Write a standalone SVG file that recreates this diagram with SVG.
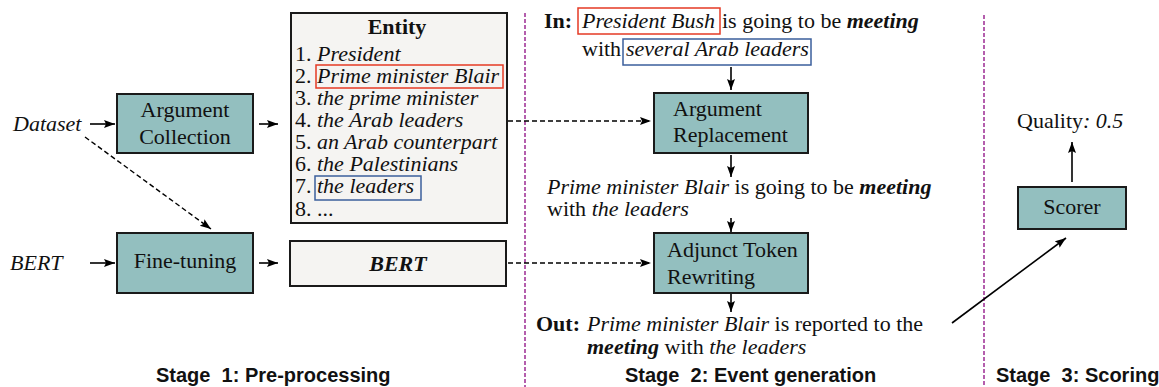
<svg xmlns="http://www.w3.org/2000/svg" width="1159" height="387" viewBox="0 0 1159 387">
<style>
.t{font-family:"Liberation Serif","Times New Roman",serif;font-size:22px;fill:#111}
.i{font-style:italic}
.b{font-weight:bold}
.st{font-family:"Liberation Sans",Arial,sans-serif;font-size:20px;font-weight:bold;fill:#111;white-space:pre}
.proc{fill:#93bfbf;stroke:#1a1a1a;stroke-width:2}
.store{fill:#f5f4f2;stroke:#1a1a1a;stroke-width:2}
.arr{stroke:#000;stroke-width:1.6;fill:none;marker-end:url(#ah)}
.dash{stroke:#000;stroke-width:1.4;fill:none;stroke-dasharray:5 3;marker-end:url(#ah)}
.sep{stroke:#9c2a92;stroke-width:1.5;stroke-dasharray:4 2;fill:none}
.red{fill:none;stroke:#e53a25;stroke-width:1.5}
.blue{fill:none;stroke:#3b5f9c;stroke-width:1.5}
</style>
<defs>
<marker id="ah" markerUnits="userSpaceOnUse" markerWidth="12" markerHeight="10" refX="11" refY="4" orient="auto">
<path d="M0,0 L11,4 L0,8 L2,4 z" fill="#000"/>
</marker>
</defs>

<g id="separators">
<line class="sep" x1="525" y1="13" x2="525" y2="387"/>
<line class="sep" x1="984" y1="15" x2="984" y2="387"/>
</g>

<g id="dataset-label"><text class="t i" x="13" y="131">Dataset</text></g>
<g id="bert-input-label"><text class="t i" x="10" y="270">BERT</text></g>

<g id="argument-collection">
<rect class="proc" x="117" y="94" width="136" height="59"/>
<text class="t" x="185" y="117" text-anchor="middle">Argument</text>
<text class="t" x="185" y="144" text-anchor="middle">Collection</text>
</g>

<g id="fine-tuning">
<rect class="proc" x="117" y="233" width="136" height="60"/>
<text class="t" x="185" y="268" text-anchor="middle">Fine-tuning</text>
</g>

<g id="entity">
<rect class="store" x="291" y="13" width="216" height="210"/>
<text class="t b" x="397" y="34" text-anchor="middle">Entity</text>
<text class="t" x="295" y="61">1. <tspan class="i" x="317">President</tspan></text>
<text class="t" x="295" y="83">2. <tspan class="i" x="317">Prime minister Blair</tspan></text>
<text class="t" x="295" y="105">3. <tspan class="i" x="317">the prime minister</tspan></text>
<text class="t" x="295" y="127">4. <tspan class="i" x="317">the Arab leaders</tspan></text>
<text class="t" x="295" y="149">5. <tspan class="i" x="317">an Arab counterpart</tspan></text>
<text class="t" x="295" y="171">6. <tspan class="i" x="317">the Palestinians</tspan></text>
<text class="t" x="295" y="193">7. <tspan class="i" x="317">the leaders</tspan></text>
<text class="t" x="295" y="216">8. ...</text>
<rect class="red" x="316" y="65" width="187" height="23"/>
<rect class="blue" x="315" y="176" width="106" height="24"/>
</g>

<g id="bert-model">
<rect class="store" x="290" y="241" width="216" height="45"/>
<text class="t i b" x="398" y="271" text-anchor="middle">BERT</text>
</g>

<g id="input-sentence">
<text class="t" x="544" y="28"><tspan class="b">In:</tspan> <tspan class="i" x="582">President Bush</tspan> <tspan x="722">is going to be </tspan><tspan class="i b">meeting</tspan></text>
<rect class="red" x="578" y="8" width="142" height="26"/>
<text class="t" x="582" y="56">with <tspan class="i" x="626">several Arab leaders</tspan></text>
<rect class="blue" x="623" y="39" width="188" height="26"/>
</g>

<g id="argument-replacement">
<rect class="proc" x="654" y="93" width="154" height="60"/>
<text class="t" x="673" y="116">Argument</text>
<text class="t" x="673" y="142">Replacement</text>
</g>

<g id="intermediate-sentence">
<text class="t" x="547" y="194"><tspan class="i">Prime minister Blair</tspan> is going to be <tspan class="i b">meeting</tspan></text>
<text class="t" x="547" y="216">with <tspan class="i">the leaders</tspan></text>
</g>

<g id="adjunct-token-rewriting">
<rect class="proc" x="654" y="233" width="154" height="60"/>
<text class="t" x="667" y="257">Adjunct Token</text>
<text class="t" x="667" y="284">Rewriting</text>
</g>

<g id="output-sentence">
<text class="t" x="536" y="331"><tspan class="b">Out:</tspan> <tspan class="i" x="587">Prime minister Blair</tspan> is reported to the</text>
<text class="t" x="587" y="354"><tspan class="i b">meeting</tspan> with <tspan class="i">the leaders</tspan></text>
</g>

<g id="scorer">
<rect class="proc" x="1018" y="187" width="108" height="42"/>
<text class="t" x="1072" y="214" text-anchor="middle">Scorer</text>
</g>

<g id="quality">
<text class="t" x="1017" y="128">Quality<tspan class="i">: 0.5</tspan></text>
</g>

<g id="connectors">
<line class="arr" x1="90" y1="124" x2="115" y2="124"/>
<line class="arr" x1="259" y1="124" x2="278" y2="124"/>
<line class="arr" x1="90" y1="263" x2="115" y2="263"/>
<line class="arr" x1="259" y1="263" x2="278" y2="263"/>
<line class="dash" x1="85" y1="137" x2="211" y2="229"/>
<line class="dash" x1="508" y1="121" x2="651" y2="121"/>
<line class="dash" x1="508" y1="263" x2="651" y2="263"/>
<line class="arr" x1="731" y1="67" x2="731" y2="90"/>
<line class="arr" x1="731" y1="155" x2="731" y2="177"/>
<line class="arr" x1="731" y1="218" x2="731" y2="232"/>
<line class="arr" x1="731" y1="294" x2="731" y2="312"/>
<line class="arr" x1="1072" y1="182" x2="1072" y2="142"/>
<line class="arr" x1="952" y1="323" x2="1066" y2="238"/>
</g>

<g id="stage-labels">
<text class="st" x="156" y="382">Stage&#160; 1: Pre-processing</text>
<text class="st" x="625" y="382">Stage&#160; 2: Event generation</text>
<text class="st" x="996" y="382">Stage&#160; 3: Scoring</text>
</g>
</svg>
